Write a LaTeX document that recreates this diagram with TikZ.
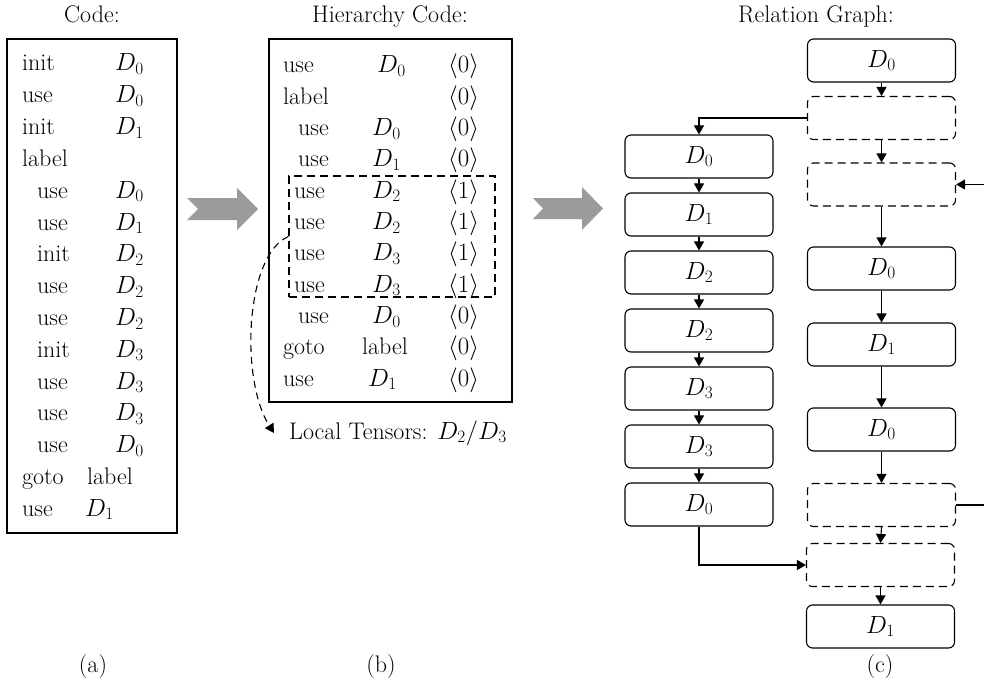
\documentclass[tikz,border=0pt]{standalone}
\usetikzlibrary{arrows.meta}
\definecolor{arrowgrey}{HTML}{9B9B9B}
\begin{document}
\begin{tikzpicture}[x=1pt,y=-1pt,
  every node/.style={font=\fontsize{24}{28}\selectfont},
  txt/.style={inner sep=0pt,anchor=base west},
  ttl/.style={inner sep=0pt,anchor=base},
  frame/.style={draw,line width=1.1pt,inner sep=0pt},
  gbox/.style={draw,line width=1.1pt,rounded corners=6pt,minimum width=148pt,minimum height=43pt,inner sep=0pt},
  dbox/.style={gbox,dash pattern=on 8pt off 5pt},
  arr/.style={line width=1.1pt,-{Triangle[length=9pt,width=10pt]}},
  bigarrow/.style={fill=arrowgrey}]
\clip (0,0) rectangle (984,695);
\path[use as bounding box] (0,0) rectangle (984,695);

% ---------- titles and captions ----------
\node[ttl] (t1) at (92,23) {Code:};
\node[ttl] (t2) at (390,23) {Hierarchy Code:};
\node[ttl] (t3) at (816,23) {Relation Graph:};
\node[ttl] (c1) at (93,672) {(a)};
\node[ttl] (c2) at (381,672) {(b)};
\node[ttl] (c3) at (880,672) {(c)};

% ---------- (a) plain code ----------
\node[frame,minimum width=170pt,minimum height=494pt] (codeA) at (92,286) {};
\foreach \op/\ox/\arg/\ax [count=\i from 0] in {
  init/22/{$D_0$}/115, use/22/{$D_0$}/115, init/22/{$D_1$}/115, label/22/{}/115,
  use/37/{$D_0$}/115, use/37/{$D_1$}/115, init/37/{$D_2$}/115, use/37/{$D_2$}/115,
  use/37/{$D_2$}/115, init/37/{$D_3$}/115, use/37/{$D_3$}/115, use/37/{$D_3$}/115,
  use/37/{$D_0$}/115, goto/22/label/87, use/22/{$D_1$}/85} {
  \pgfmathsetmacro\yy{65+31.8*\i+6}
  \node[txt] (aop\i) at (\ox,\yy) {\op};
  \node[txt] (aarg\i) at (\ax,\yy) {\arg};
}

% ---------- (b) hierarchy code ----------
\node[frame,minimum width=243pt,minimum height=363pt] (codeB) at (390.5,220.5) {};
\foreach \op/\ox/\arg/\ax/\lv [count=\i from 0] in {
  use/283/{$D_0$}/377/0, label/283/{}/372/0, use/298/{$D_0$}/372/0, use/298/{$D_1$}/372/0,
  use/294/{$D_2$}/372/1, use/294/{$D_2$}/372/1, use/294/{$D_3$}/372/1, use/294/{$D_3$}/372/1,
  use/298/{$D_0$}/372/0, goto/283/label/362/0, use/283/{$D_1$}/368/0} {
  \pgfmathsetmacro\yy{67+31.3*\i+6}
  \node[txt] (bop\i) at (\ox,\yy) {\op};
  \node[txt] (barg\i) at (\ax,\yy) {\arg};
  \node[txt] (blv\i) at (448,\yy) {$\langle\lv\rangle$};
}
\node[draw,line width=1.1pt,dash pattern=on 8pt off 5pt,minimum width=206pt,minimum height=121pt,inner sep=0pt] (local) at (392,236.5) {};
\node[anchor=west,inner xsep=15pt,inner ysep=0pt] (lt) at (274,433) {Local Tensors: $D_2/D_3$};
\draw[arr,dash pattern=on 7pt off 5pt] (local.west) .. controls (245,255) and (240,380) .. (lt.west);

% ---------- big grey arrows ----------
\fill[bigarrow] (187,198) -- (237,198) -- (237,188) -- (258,209) -- (237,230) -- (237,220) -- (187,220) -- (198,209) -- cycle;
\fill[bigarrow] (533,198) -- (582,198) -- (582,187) -- (603,208.5) -- (582,230) -- (582,219) -- (533,219) -- (543,208.5) -- cycle;

% ---------- (c) relation graph ----------
% left chain
\node[gbox] (l1) at (699,156.5) {$D_0$};
\node[gbox] (l2) at (699,214.5) {$D_1$};
\node[gbox] (l3) at (699,272.5) {$D_2$};
\node[gbox] (l4) at (699,330.5) {$D_2$};
\node[gbox] (l5) at (699,388.5) {$D_3$};
\node[gbox] (l6) at (699,446.5) {$D_3$};
\node[gbox] (l7) at (699,504.5) {$D_0$};
% right chain
\node[gbox] (r1) at (881.5,60.5) {$D_0$};
\node[dbox] (r2) at (881.5,118) {};
\node[dbox] (r3) at (881.5,184.5) {};
\node[gbox] (r4) at (881.5,268.5) {$D_0$};
\node[gbox] (r5) at (881.5,344.5) {$D_1$};
\node[gbox] (r6) at (881.5,429.5) {$D_0$};
\node[dbox] (r7) at (881.5,505) {};
\node[dbox] (r8) at (880.5,565) {};
\node[gbox] (r9) at (880.5,626.5) {$D_1$};

\foreach \a/\b in {l1/l2,l2/l3,l3/l4,l4/l5,l5/l6,l6/l7,
                   r1/r2,r2/r3,r3/r4,r4/r5,r5/r6,r6/r7,r7/r8,r8/r9}
  \draw[arr] (\a.south) -- (\b.north);

\draw[arr] (r2.west) -| (l1.north);
\draw[arr] (l7.south) |- (r8.west);
\coordinate (loop) at (1000,505);
\draw[arr] (r7.east) -- (loop) |- (r3.east);
\end{tikzpicture}
\end{document}
